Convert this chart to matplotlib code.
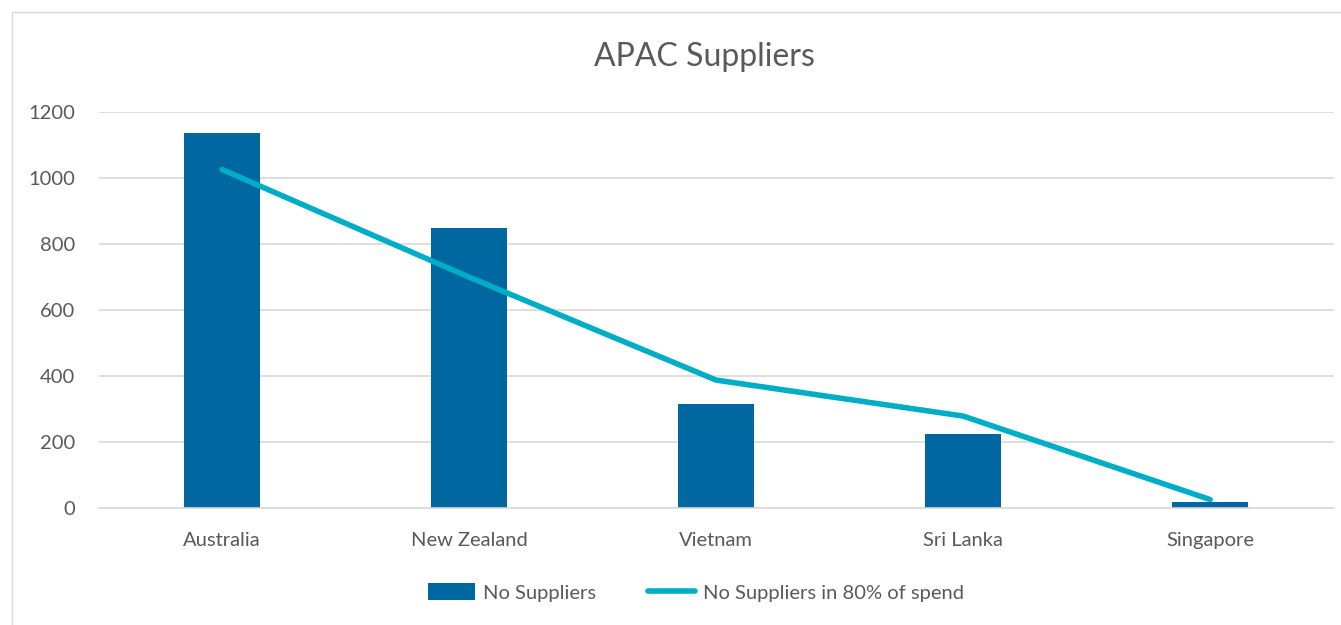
import matplotlib.pyplot as plt
from matplotlib.patches import Rectangle

countries = ["Australia", "New Zealand", "Vietnam", "Sri Lanka", "Singapore"]
suppliers = [1138, 848, 317, 225, 20]
suppliers_80 = [1026, 700, 388, 279, 26]
y_ticks = [0, 200, 400, 600, 800, 1000, 1200]

plt.rcParams['font.family'] = ['Lato', 'DejaVu Sans']

fig = plt.figure(figsize=(13.41, 6.25), dpi=100)
ax = fig.add_axes([0.0735, 0.187, 0.921, 0.6336])

x = list(range(len(countries)))
bars = ax.bar(x, suppliers, width=0.31, color='#0067A0', label='No Suppliers', zorder=2)
line, = ax.plot(x, suppliers_80, color='#00ADC6', linewidth=4, solid_capstyle='round',
                label='No Suppliers in 80% of spend', zorder=3)

ax.set_xlim(-0.5, len(countries) - 0.5)
ax.set_ylim(0, 1200)
ax.set_yticks(y_ticks)
ax.set_xticks(x)
ax.set_xticklabels(countries)
ax.tick_params(axis='both', length=0, labelsize=14.5, colors='#595959')
ax.tick_params(axis='x', pad=17)
ax.tick_params(axis='y', pad=17)
ax.grid(axis='y', color='#D9D9D9', linewidth=1.2, zorder=0)
for s in ['top', 'right', 'left']:
    ax.spines[s].set_visible(False)
ax.spines['bottom'].set_color('#D9D9D9')
ax.spines['bottom'].set_linewidth(1.2)

fig.text(0.525, 0.908, "APAC Suppliers", ha='center', va='center',
         fontsize=23, color='#595959')

fig.legend([bars, line], ['No Suppliers', 'No Suppliers in 80% of spend'],
           loc='center', bbox_to_anchor=(0.519, 0.052), ncol=2, frameon=False,
           fontsize=14.5, labelcolor='#595959', handlelength=2.3,
           handleheight=0.9, handletextpad=0.4, columnspacing=2.6)

fig.patches.append(Rectangle((0.009, -0.01), 1.0, 0.991, transform=fig.transFigure,
                             fill=False, edgecolor='#D9D9D9', linewidth=1))

fig.savefig('out.png', dpi=100)
